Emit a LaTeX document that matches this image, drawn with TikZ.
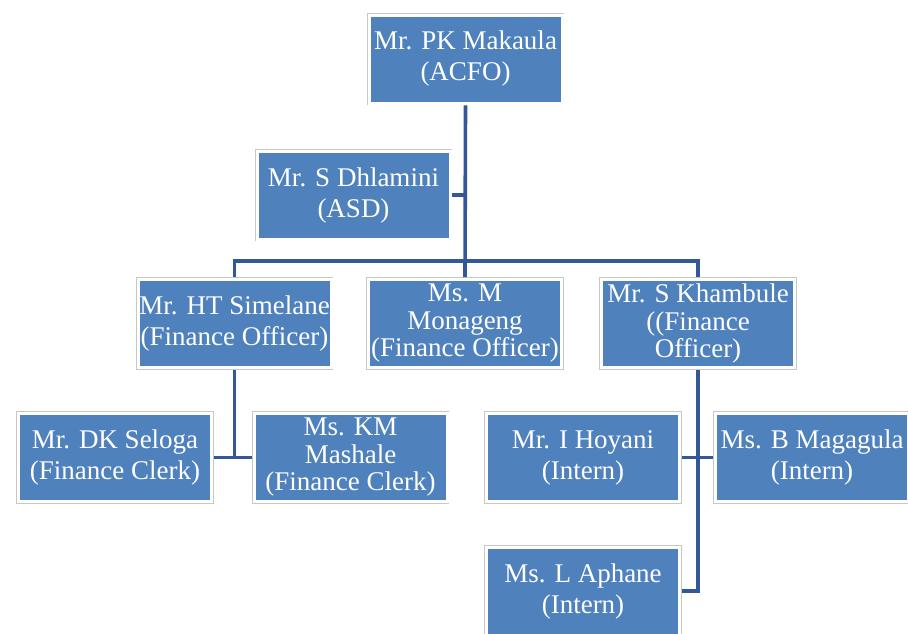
\documentclass[tikz,border=0pt]{standalone}
\usepackage{fontspec}
\setmainfont{Liberation Serif}
\usetikzlibrary{positioning}
\definecolor{boxblue}{RGB}{79,129,189}
\definecolor{linkblue}{RGB}{50,88,152}
\tikzset{
  person/.style={fill=boxblue, draw=white, line width=3pt,
    preaction={draw=black!22, line width=4.6pt},
    minimum width=193pt, minimum height=88pt, inner sep=0pt, outer sep=2.3pt,
    align=center, text=white, font=\fontsize{27}{31}\selectfont},
  tight/.style={font=\fontsize{27}{27.5}\selectfont},
  link/.style={draw=linkblue, line width=3.6pt}
}
\begin{document}
\begin{tikzpicture}[x=1pt,y=-1pt]
            \clip (0,0) rectangle (908,633);
            \fill[white] (0,0) rectangle (908,633);
            \node[person] (acfo) at (465.5,59) {Mr. PK Makaula\\(ACFO)};
            \node[person] (asd) at (353.5,195) {Mr. S Dhlamini\\(ASD)};
            \node[person] (simelane) at (234.5,323.5) {Mr. HT Simelane\\(Finance Officer)};
            \node[person, tight] (monageng) at (465,323.5) {Ms. M\\Monageng\\(Finance Officer)};
            \node[person, tight] (khambule) at (698,323.5) {Mr. S Khambule\\((Finance\\Officer)};
            \node[person] (seloga) at (115,457.5) {Mr. DK Seloga\\(Finance Clerk)};
            \node[person, tight] (mashale) at (350.5,457.5) {Ms. KM\\Mashale\\(Finance Clerk)};
            \node[person] (hoyani) at (583,457.5) {Mr. I Hoyani\\(Intern)};
            \node[person] (magagula) at (812,457.5) {Ms. B Magagula\\(Intern)};
            \node[person] (aphane) at (583,591) {Ms. L Aphane\\(Intern)};
            \coordinate (bus) at (0,261);
            \draw[link] (acfo.south) -- (monageng.north);
            \draw[link] (asd.east) -- (asd.east -| acfo.south);
            \draw[link] (simelane.north) -- (simelane.north |- bus) -| (khambule.north);
            \draw[link] (simelane.south) -- (simelane.south |- seloga.east);
            \draw[link] (seloga.east) -- (mashale.west);
            \draw[link] (khambule.south) -- (khambule.south |- aphane.east) -- (aphane.east);
            \draw[link] (hoyani.east) -- (magagula.west);
\end{tikzpicture}
\end{document}
